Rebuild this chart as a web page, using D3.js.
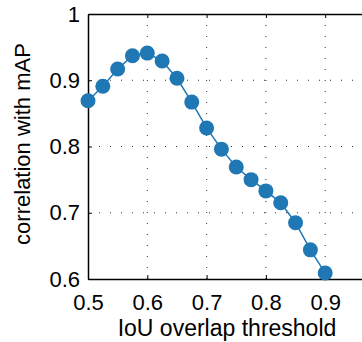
<!DOCTYPE html>
<html>
<head>
<meta charset="utf-8">
<script src="https://cdn.jsdelivr.net/npm/d3@7"></script>
<style>
body{margin:0;background:#fff;}
svg{display:block;font-family:"Liberation Sans",Arial,sans-serif;}
</style>
</head>
<body>
<svg id="chart" width="362" height="342"></svg>
<script>
//iou thresholds on the x axis
const thresholds = [0.5,0.525,0.55,0.575,0.6,0.625,0.65,0.675,0.7,0.725,0.75,0.775,0.8,0.825,0.85,0.875,0.9];
//correlation values
const correlation = [0.869,0.891,0.917,0.937,0.941,0.929,0.903,0.867,0.828,0.796,0.769,0.750,0.733,0.715,0.685,0.644,0.609];
const xTicks = [0.5,0.6,0.7,0.8,0.9,1.0];
const yTicks = [0.6,0.7,0.8,0.9,1];

const svg = d3.select("#chart");
const plotLeft = 88, plotTop = 14, plotBottom = 279;

//axis runs on to 1.0 but the picture is cut at the right
const x = d3.scaleLinear().domain([0.5,1.0]).range([plotLeft, plotLeft + 296.5]);
const y = d3.scaleLinear().domain([0.6,1]).range([plotBottom, plotTop]);

//dotted grid
const g = svg.append("g");
g.selectAll(".gx")
    .data(xTicks.slice(1))
    .enter()
    .append("line")
    .attr("x1", d => x(d)).attr("x2", d => x(d))
    .attr("y1", plotTop).attr("y2", plotBottom)
    .style("stroke","#333")
    .style("stroke-width",1)
    .style("stroke-dasharray","1,10");
g.selectAll(".gy")
    .data(yTicks.slice(1,-1))
    .enter()
    .append("line")
    .attr("x1", plotLeft).attr("x2", x(1.0))
    .attr("y1", d => y(d)).attr("y2", d => y(d))
    .style("stroke","#333")
    .style("stroke-width",1)
    .style("stroke-dasharray","1,10");

//axes
const xAxis = d3.axisBottom(x).tickValues(xTicks.slice(0,-1)).tickSizeInner(-4).tickSizeOuter(0).tickPadding(15).tickFormat(d3.format(".1f"));
const yAxis = d3.axisLeft(y).tickValues(yTicks).tickSizeInner(-4).tickSizeOuter(0).tickPadding(8).tickFormat(d => d == 1 ? "1" : d3.format(".1f")(d));

const gx = svg.append("g").attr("transform","translate(0," + plotBottom + ")").call(xAxis);
const gy = svg.append("g").attr("transform","translate(" + plotLeft + ",0)").call(yAxis);
//top border with ticks
const gt = svg.append("g").attr("transform","translate(0," + plotTop + ")")
    .call(d3.axisTop(x).tickValues(xTicks.slice(0,-1)).tickSizeInner(-4).tickSizeOuter(0).tickFormat(""));

[gx,gy,gt].forEach(function(a){
    a.select(".domain").style("stroke","#000").style("stroke-width",1.5);
    a.selectAll(".tick line").style("stroke","#000");
    a.selectAll("text").style("font-size","22px").style("fill","#000").style("font-family","Liberation Sans, Arial, sans-serif");
});

//line and points
const line = d3.line()
    .x((d,i) => x(thresholds[i]))
    .y(d => y(d));
svg.append("path")
    .datum(correlation)
    .attr("d", line)
    .style("fill","none")
    .style("stroke","#1f77b4")
    .style("stroke-width",1.5);
svg.selectAll(".pt")
    .data(correlation)
    .enter()
    .append("circle")
    .attr("cx", (d,i) => x(thresholds[i]))
    .attr("cy", d => y(d))
    .attr("r", 7.5)
    .style("fill","#1f77b4");

//axis titles
svg.append("text")
    .attr("x", 227).attr("y", 336)
    .attr("text-anchor","middle")
    .style("font-size","23px")
    .text("IoU overlap threshold");
svg.append("text")
    .attr("transform","translate(30,144)rotate(-90)")
    .attr("text-anchor","middle")
    .style("font-size","22px")
    .text("correlation with mAP");
</script>
</body>
</html>
